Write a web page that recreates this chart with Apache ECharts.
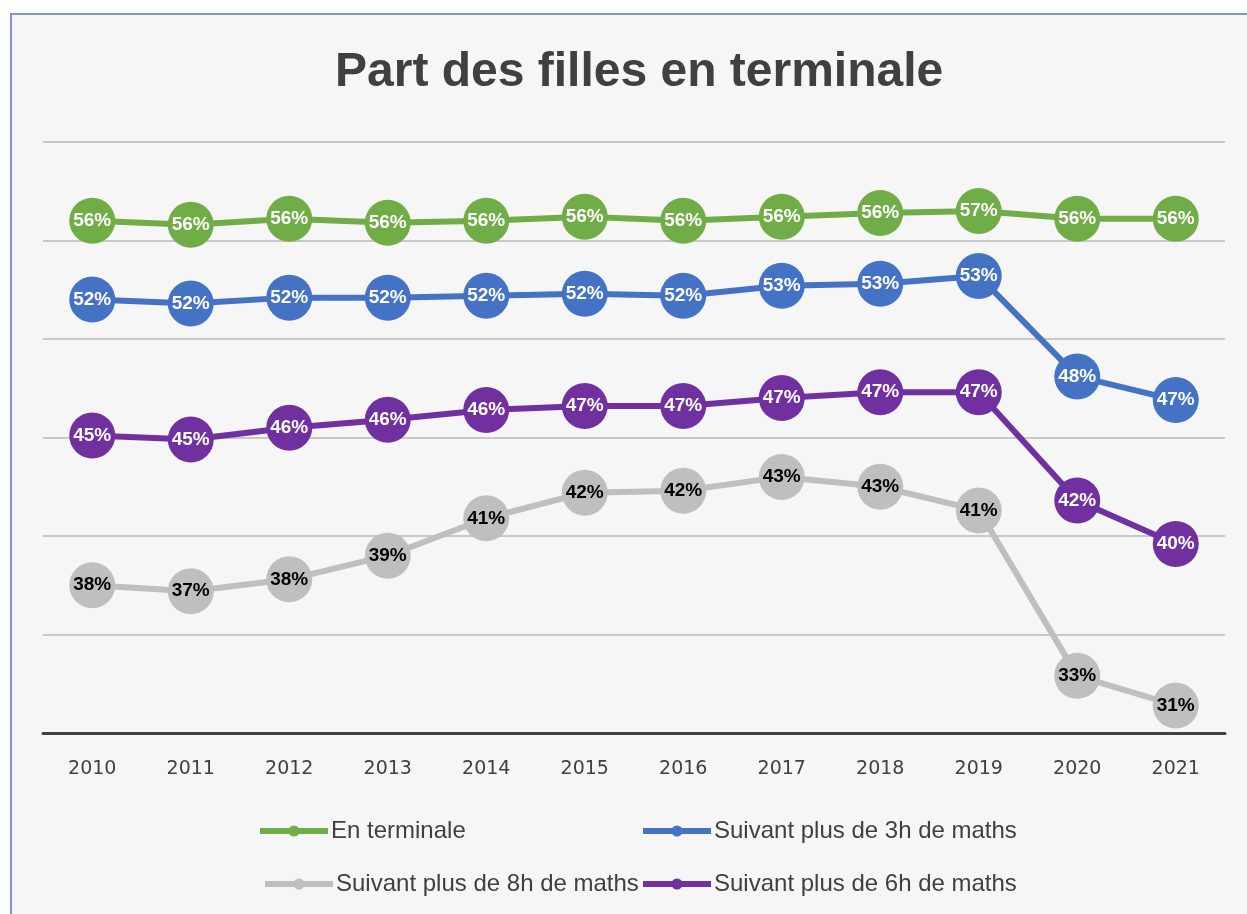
<!DOCTYPE html>
<html>
<head>
<meta charset="utf-8">
<title>Part des filles en terminale</title>
<script src="https://cdn.jsdelivr.net/npm/echarts@6/dist/echarts.min.js"></script>
<style>
  html, body { margin: 0; padding: 0; background: #ffffff; }
  #frame {
    position: absolute; left: 10px; top: 13px; width: 1250px; height: 920px;
    border: 2px solid #7f95d8; background: #f6f6f6; box-sizing: border-box;
  }
  #chart { position: absolute; left: 0; top: 0; width: 1247px; height: 914px; }
</style>
</head>
<body>
<div id="frame"></div>
<div id="chart"></div>
<script>
  // années
  const years = ['2010', '2011', '2012', '2013', '2014', '2015', '2016', '2017', '2018', '2019', '2020', '2021']

  // part des filles (%)
  const enTerminale = [56.0, 55.8, 56.1, 55.9, 56.0, 56.2, 56.0, 56.2, 56.4, 56.5, 56.1, 56.1]
  const plus3h = [52.0, 51.8, 52.1, 52.1, 52.2, 52.3, 52.2, 52.7, 52.8, 53.2, 48.1, 46.9]
  const plus8h = [37.5, 37.2, 37.8, 39.0, 40.9, 42.2, 42.3, 43.0, 42.5, 41.3, 32.9, 31.4]
  const plus6h = [45.1, 44.9, 45.5, 45.9, 46.4, 46.6, 46.6, 47.0, 47.3, 47.3, 41.8, 39.6]

  const names = ['En terminale', 'Suivant plus de 3h de maths', 'Suivant plus de 8h de maths', 'Suivant plus de 6h de maths']
  const colors = ['#70ad47', '#4472c4', '#bfbfbf', '#7030a0']

  const labelFont = "'Liberation Sans Narrow', 'Liberation Sans', sans-serif"

  function makeSeries(name, data, color, labelColor) {
    return {
      name: name,
      type: 'line',
      data: data,
      symbol: 'circle',
      symbolSize: 46,
      lineStyle: { color: color, width: 6 },
      itemStyle: { color: color },
      label: {
        show: true,
        position: 'inside',
        color: labelColor,
        fontSize: 19,
        fontWeight: 'bold',
        fontFamily: labelFont,
        formatter: (p) => Math.round(p.value) + '%',
      },
      emphasis: { disabled: true },
      z: 3,
    }
  }

  const legendBase = {
    itemWidth: 68,
    itemHeight: 14,
    itemGap: 0,
    lineStyle: { width: 6 },
    textStyle: { fontSize: 24, color: '#404040', fontFamily: labelFont, padding: [0, 0, 0, -2] },
    selectedMode: false,
  }

  const chart = echarts.init(document.getElementById('chart'))

  chart.setOption({
    animation: false,
    title: {
      text: 'Part des filles en terminale',
      left: 330,
      top: 44,
      textStyle: { fontSize: 48, fontWeight: 'bold', color: '#404040', fontFamily: "'Liberation Sans', sans-serif" },
    },
    grid: { left: 43, right: 22, top: 142, bottom: 181 },
    legend: [
      { ...legendBase, data: [names[0]], left: 252, top: 814 },
      { ...legendBase, data: [names[1]], left: 635, top: 814 },
      { ...legendBase, data: [names[2]], left: 257, top: 867 },
      { ...legendBase, data: [names[3]], left: 635, top: 867 },
    ],
    xAxis: {
      type: 'category',
      data: years,
      boundaryGap: true,
      axisLine: { lineStyle: { color: '#404040', width: 3 } },
      axisTick: { show: false },
      axisLabel: { fontSize: 19, color: '#404040', margin: 27, fontFamily: "'DejaVu Sans', sans-serif" },
    },
    yAxis: {
      type: 'value',
      min: 30,
      max: 60,
      interval: 5,
      axisLine: { show: false },
      axisTick: { show: false },
      axisLabel: { show: false },
      splitLine: { lineStyle: { color: '#c8c8c8', width: 2 } },
    },
    series: [
      makeSeries(names[0], enTerminale, colors[0], '#ffffff'),
      makeSeries(names[1], plus3h, colors[1], '#ffffff'),
      makeSeries(names[2], plus8h, colors[2], '#000000'),
      makeSeries(names[3], plus6h, colors[3], '#ffffff'),
    ],
  })
</script>
</body>
</html>
